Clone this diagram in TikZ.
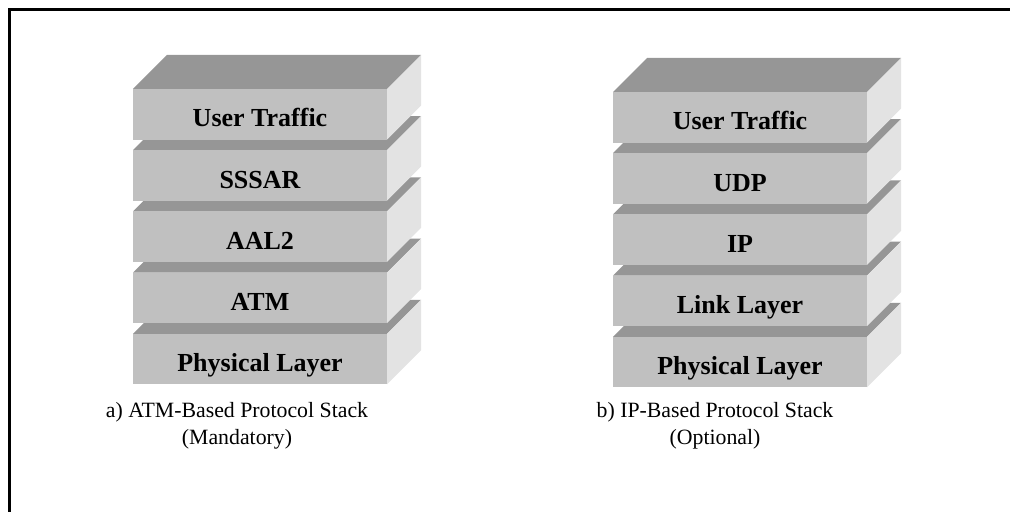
\documentclass[tikz,border=0pt]{standalone}
\usepackage{fontspec}
\setmainfont{Liberation Serif}
\definecolor{frontgray}{RGB}{192,192,192}
\definecolor{topgray}{RGB}{150,150,150}
\definecolor{sidegray}{RGB}{227,227,227}
\begin{document}
\begin{tikzpicture}[x=0.5pt,y=-0.5pt]
\tikzstyle{front} = [rectangle, fill=frontgray, minimum width=127pt, minimum height=25.3pt, inner sep=0pt, outer sep=0pt, text height=12.6pt, text depth=0pt, anchor=north west, font=\fontsize{13}{15}\selectfont\bfseries]
\tikzstyle{topface} = [fill=topgray]
\tikzstyle{sideface} = [fill=sidegray]
\tikzstyle{caption} = [align=center, font=\fontsize{10.9}{13.5}\selectfont]
\useasboundingbox (0,0) rectangle (1010,512);
% frame
\draw[line width=1.25pt] (9.5,512) -- (9.5,9.5) -- (1010,9.5);
% a) ATM stack, drawn bottom-up
\foreach \name/\txt [count=\i] in {phy/Physical Layer, atm/ATM, aal/AAL2, sssar/SSSAR, user/User Traffic}{
  \pgfmathsetmacro{\ytop}{333.8-61.2*(\i-1)}
  \fill[topface] (133,\ytop) -- ++(34,-34) -- ++(254,0) -- ++(-34,34) -- cycle;
  \fill[sideface] (387,\ytop) -- ++(34,-34) -- ++(0,50.5) -- ++(-34,34) -- cycle;
  \node (a-\name)[front] at (133,\ytop) {\txt};
}
% b) IP stack
\foreach \name/\txt [count=\i] in {phy/Physical Layer, link/Link Layer, ip/IP, udp/UDP, user/User Traffic}{
  \pgfmathsetmacro{\ytop}{336.8-61.2*(\i-1)}
  \fill[topface] (613,\ytop) -- ++(34,-34) -- ++(254,0) -- ++(-34,34) -- cycle;
  \fill[sideface] (867,\ytop) -- ++(34,-34) -- ++(0,50.5) -- ++(-34,34) -- cycle;
  \node (b-\name)[front] at (613,\ytop) {\txt};
}
\node (capA)[caption] at (237,426) {a) ATM-Based Protocol Stack\\(Mandatory)};
\node (capB)[caption] at (715,426) {b) IP-Based Protocol Stack\\(Optional)};
\end{tikzpicture}
\end{document}
